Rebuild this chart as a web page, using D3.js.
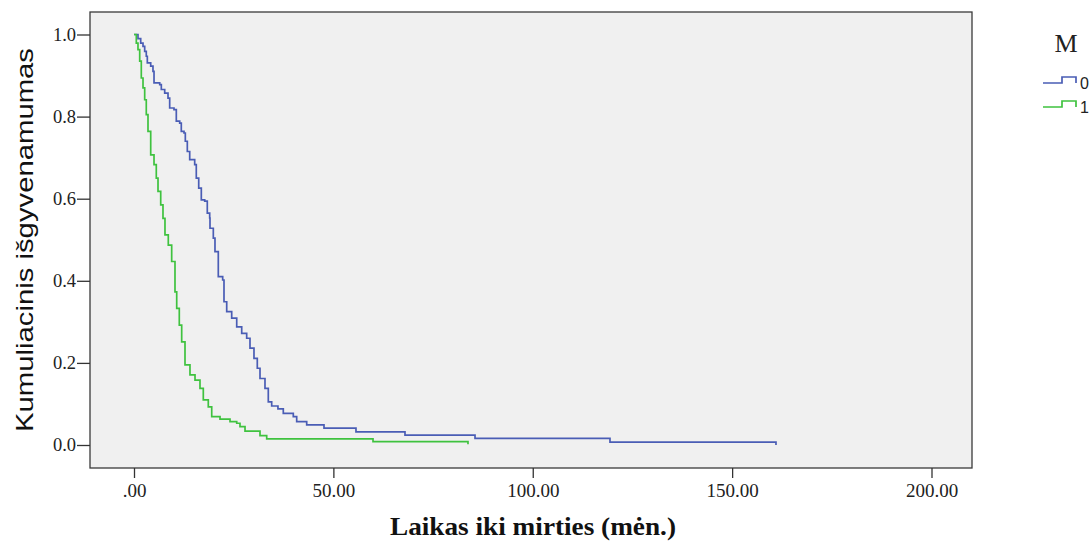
<!DOCTYPE html>
<html>
<head>
<meta charset="utf-8">
<script src="https://cdn.jsdelivr.net/npm/d3@7"></script>
<style>
    body { margin: 0; background: #fff; }
    svg { display: block; }
</style>
</head>
<body>
<div id="plot-area"></div>
<script>
// Kaplan-Meier step points (time in months, cumulative survival)
const groups = ["0", "1"];
const timeM0 = [0, 1.0, 1.68, 2.26, 2.68, 3.08, 3.34, 4.19, 4.76, 5.02, 6.45, 6.85, 7.70, 8.53, 8.95, 10.03, 10.61,
    11.46, 11.86, 12.54, 12.87, 13.37, 13.97, 15.22, 15.62, 16.23, 16.88, 17.73, 18.38, 18.98, 19.06, 19.89, 20.31,
    21.14, 22.24, 22.57, 23.25, 24.50, 25.76, 27.01, 28.26, 29.09, 30.09, 30.92, 31.60, 32.85, 33.68, 34.53, 36.1,
    37.44, 39.95, 40.80, 43.31, 47.65, 55.67, 67.96, 85.52, 119.37, 161.0];
const survM0 = [1.0, 0.990, 0.979, 0.971, 0.959, 0.947, 0.931, 0.923, 0.910, 0.882, 0.878, 0.866, 0.857, 0.845, 0.821,
    0.817, 0.789, 0.784, 0.764, 0.760, 0.740, 0.715, 0.695, 0.683, 0.650, 0.626, 0.597, 0.594, 0.565, 0.553, 0.528,
    0.504, 0.471, 0.410, 0.402, 0.349, 0.325, 0.309, 0.288, 0.272, 0.260, 0.236, 0.211, 0.187, 0.162, 0.138, 0.105,
    0.095, 0.088, 0.077, 0.069, 0.057, 0.049, 0.041, 0.032, 0.024, 0.016, 0.007, 0.0];
const timeM1 = [0, 0.58, 1.00, 1.43, 1.83, 2.26, 2.68, 3.08, 3.51, 4.19, 5.02, 5.59, 6.02, 6.70, 7.27, 7.77, 8.60,
    9.45, 10.28, 10.71, 11.36, 11.96, 12.79, 14.04, 15.30, 16.55, 17.38, 18.63, 19.49, 21.57, 24.08, 25.76, 26.58,
    27.84, 31.60, 33.28, 59.94, 83.76];
const survM1 = [1.0, 0.979, 0.963, 0.935, 0.894, 0.870, 0.841, 0.805, 0.764, 0.707, 0.683, 0.650, 0.618, 0.585, 0.552,
    0.512, 0.487, 0.447, 0.373, 0.333, 0.292, 0.251, 0.195, 0.171, 0.158, 0.138, 0.110, 0.093, 0.069, 0.063, 0.057,
    0.053, 0.045, 0.034, 0.023, 0.015, 0.008, 0.002];
const xTicks = [0, 50, 100, 150, 200];
const yTicks = [0, 0.2, 0.4, 0.6, 0.8, 1.0];
const colors = ["#4a5db5", "#3fc23f"];

const width = 1089, height = 542;
const box = {left: 90, top: 12, right: 972, bottom: 468};

const svg = d3.select("#plot-area").append("svg")
    .attr("width", width)
    .attr("height", height);

const x = d3.scaleLinear().domain([0, 200]).range([134, 931.5]);
const y = d3.scaleLinear().domain([0, 1]).range([445, 34.5]);

// plot background and frame
svg.append("rect")
    .attr("x", box.left).attr("y", box.top)
    .attr("width", box.right - box.left).attr("height", box.bottom - box.top)
    .attr("fill", "#f0f0f0")
    .attr("stroke", "#3a3a3a")
    .attr("stroke-width", 1.3);

//Draw x-axis
const xAxis = d3.axisBottom(x).tickValues(xTicks).tickSize(10).tickSizeOuter(0)
    .tickFormat(d => d === 0 ? ".00" : d3.format(".2f")(d));
const gx = svg.append("g")
    .attr("transform", "translate(0," + box.bottom + ")")
    .call(xAxis);
gx.select(".domain").remove();
gx.selectAll(".tick line").attr("stroke", "#333").attr("stroke-width", 1.3);
gx.selectAll(".tick text")
    .attr("font-family", "'Liberation Serif', serif")
    .attr("font-size", 19)
    .attr("fill", "#222")
    .attr("y", 29)
    .attr("dy", 0);

//Draw y-axis
const yAxis = d3.axisLeft(y).tickValues(yTicks).tickSize(13).tickSizeOuter(0)
    .tickFormat(d3.format(".1f"));
const gy = svg.append("g")
    .attr("transform", "translate(" + box.left + ",0)")
    .call(yAxis);
gy.select(".domain").remove();
gy.selectAll(".tick line").attr("stroke", "#333").attr("stroke-width", 1.3);
gy.selectAll(".tick text")
    .attr("font-family", "'Liberation Serif', serif")
    .attr("font-size", 18.5)
    .attr("fill", "#222")
    .attr("x", -14);

// axis titles
svg.append("text")
    .attr("transform", "translate(33,240) rotate(-90)")
    .attr("text-anchor", "middle")
    .attr("font-family", "'Liberation Sans', Arial, sans-serif")
    .attr("font-size", 24)
    .attr("textLength", 384)
    .attr("lengthAdjust", "spacingAndGlyphs")
    .attr("fill", "#111")
    .text("Kumuliacinis išgyvenamumas");

svg.append("text")
    .attr("x", 533).attr("y", 535)
    .attr("text-anchor", "middle")
    .attr("font-family", "'Liberation Serif', serif")
    .attr("font-weight", "bold")
    .attr("font-size", 26)
    .attr("textLength", 286)
    .attr("lengthAdjust", "spacingAndGlyphs")
    .attr("fill", "#111")
    .text("Laikas iki mirties (mėn.)");

// survival curves
const series = [
    timeM0.map((t, i) => ({t: t, s: survM0[i]})),
    timeM1.map((t, i) => ({t: t, s: survM1[i]}))
];
const line = d3.line()
    .x(d => x(d.t))
    .y(d => y(d.s))
    .curve(d3.curveStepAfter);

series.forEach(function (data, i) {
    svg.append("path")
        .datum(data)
        .attr("d", line)
        .attr("fill", "none")
        .attr("stroke", colors[i])
        .attr("stroke-width", 1.7);
});

// legend
svg.append("text")
    .attr("x", 1066).attr("y", 52)
    .attr("text-anchor", "middle")
    .attr("font-family", "'Liberation Serif', serif")
    .attr("font-size", 26)
    .attr("fill", "#222")
    .text("M");

groups.forEach(function (g, i) {
    const ly = 83 + i * 24;
    svg.append("path")
        .attr("d", "M1043," + ly + "H1062V" + (ly - 6) + "H1076V" + ly)
        .attr("fill", "none")
        .attr("stroke", colors[i])
        .attr("stroke-width", 1.7);
    svg.append("text")
        .attr("x", 1080).attr("y", ly + 6)
        .attr("font-family", "'Liberation Sans', Arial, sans-serif")
        .attr("font-size", 16)
        .attr("fill", "#222")
        .text(g);
});
</script>
</body>
</html>
